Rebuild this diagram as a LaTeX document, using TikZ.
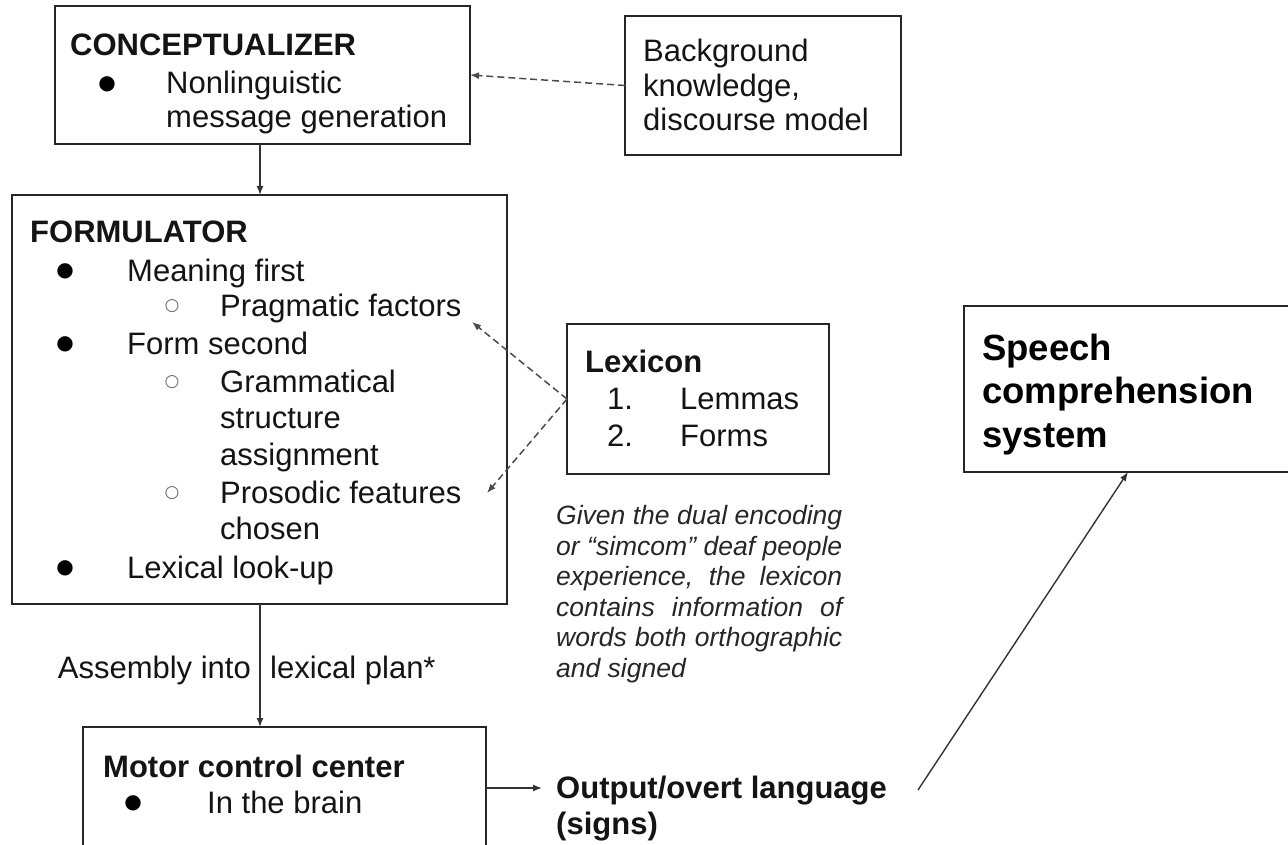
\documentclass[tikz,border=0pt]{standalone}
\usepackage{fontspec}
\setmainfont{Liberation Sans}
\newfontfamily\symfont{DejaVu Sans}
\usetikzlibrary{arrows.meta,calc}
\tikzset{
  box/.style={draw=black!85, line width=1.6pt, inner sep=0pt, outer sep=0pt, anchor=north west},
  txt/.style={anchor=base west, inner sep=0pt, text=black!92, font=\fontsize{31}{35}\selectfont},
  btxt/.style={txt, font=\fontsize{31}{35}\selectfont\bfseries},
  bul/.style={anchor=center, inner sep=0pt, font=\fontsize{20}{20}\selectfont\symfont},
  wbul/.style={anchor=center, inner sep=0pt, text=black!60, font=\fontsize{17}{17}\selectfont\symfont},
  arr/.style={-{Latex[length=9pt,width=7pt]}, line width=1.4pt, draw=black!80},
  darr/.style={arr, dash pattern=on 7pt off 4pt, line width=1.5pt, draw=black!70},
}
\begin{document}
\begin{tikzpicture}[x=1pt,y=-1pt]
\useasboundingbox (0,0) rectangle (1288,845);
\fill[white] (0,0) rectangle (1288,845);

% Conceptualizer
\node[box, minimum width=415pt, minimum height=138pt] (concept) at (55,6) {};
\node[btxt] (c1) at (70,56) {CONCEPTUALIZER};
\node[bul] (cb1) at (107,84) {●};
\node[txt] (c2) at (166,94) {Nonlinguistic};
\node[txt] (c3) at (166,128) {message generation};

% Background
\node[box, minimum width=276pt, minimum height=139pt] (bg) at (625,16) {};
\node[txt] (g1) at (643,62) {Background};
\node[txt] (g2) at (643,97) {knowledge,};
\node[txt] (g3) at (643,131) {discourse model};

% Formulator
\node[box, minimum width=495pt, minimum height=409pt] (form) at (12,195) {};
\node[btxt] (f0) at (30,243) {FORMULATOR};
\node[bul] (fb1) at (65,271) {●};
\node[txt] (f1) at (127,281) {Meaning first};
\node[wbul] (fw1) at (172,306) {○};
\node[txt] (f2) at (220,316) {Pragmatic factors};
\node[bul] (fb2) at (65,344) {●};
\node[txt] (f3) at (127,354) {Form second};
\node[wbul] (fw2) at (172,382) {○};
\node[txt] (f4) at (220,392) {Grammatical};
\node[txt] (f5) at (220,428) {structure};
\node[txt] (f6) at (220,465) {assignment};
\node[wbul] (fw3) at (172,493) {○};
\node[txt] (f7) at (220,503) {Prosodic features};
\node[txt] (f8) at (220,539) {chosen};
\node[bul] (fb3) at (65,568) {●};
\node[txt] (f9) at (127,578) {Lexical look-up};

% Lexicon
\node[box, minimum width=262pt, minimum height=150pt] (lex) at (567,324) {};
\node[btxt] (l0) at (585,372) {Lexicon};
\node[txt] (l1n) at (607,409) {1.};
\node[txt] (l1) at (680,409) {Lemmas};
\node[txt] (l2n) at (607,446) {2.};
\node[txt] (l2) at (680,446) {Forms};

% Note
\node[anchor=north west, inner sep=0pt, align=left, text=black!85,
      font=\fontsize{26.5}{30.6}\selectfont\itshape] (note) at (556,505)
{\makebox[286pt][s]{Given the dual encoding}\\
 \makebox[286pt][s]{or “simcom” deaf people}\\
 \makebox[286pt][s]{experience, the lexicon}\\
 \makebox[286pt][s]{contains information of}\\
 \makebox[286pt][s]{words both orthographic}\\
 \makebox[286pt][l]{and signed}};

% Speech comprehension
\node[box, minimum width=330pt, minimum height=166pt] (speech) at (964,306) {};
\node[anchor=base west, inner sep=0pt, font=\fontsize{36.5}{43.5}\selectfont\bfseries] (s1) at (982,360) {Speech};
\node[anchor=base west, inner sep=0pt, font=\fontsize{36.5}{43.5}\selectfont\bfseries] (s2) at (982,403) {comprehension};
\node[anchor=base west, inner sep=0pt, font=\fontsize{36.5}{43.5}\selectfont\bfseries] (s3) at (982,447) {system};

% Motor control
\node[box, minimum width=403pt, minimum height=122pt] (motor) at (83,727) {};
\node[btxt] (m1) at (103,777) {Motor control center};
\node[bul] (mb1) at (133,803) {●};
\node[txt] (m2) at (207,813) {In the brain};

% Output
\node[btxt] (o1) at (556,798) {Output/overt language};
\node[btxt] (o2) at (556,834) {(signs)};

% Assembly label
\node[txt, anchor=base east] (a1) at (251,678) {Assembly into};
\node[txt] (a2) at (270,678) {lexical plan*};

% connectors
\coordinate (pf) at (472,322);
\coordinate (pc) at (487,493);
\coordinate (oc) at (918,790);
\draw[arr] (concept.south -| 260,0) -- (260,195 |- form.north);
\draw[darr] (bg.west) -- (concept.east);
\draw[darr] (lex.west) -- (pf);
\draw[darr] (lex.west) -- (pc);
\draw[arr] (form.south -| 260,0) -- (260,0 |- motor.north);
\draw[arr, shorten >=14pt] (motor.east) -- (motor.east -| o1.west);
\draw[arr] (oc) -- ($(speech.south west)+(164,0)$);
\end{tikzpicture}
\end{document}
